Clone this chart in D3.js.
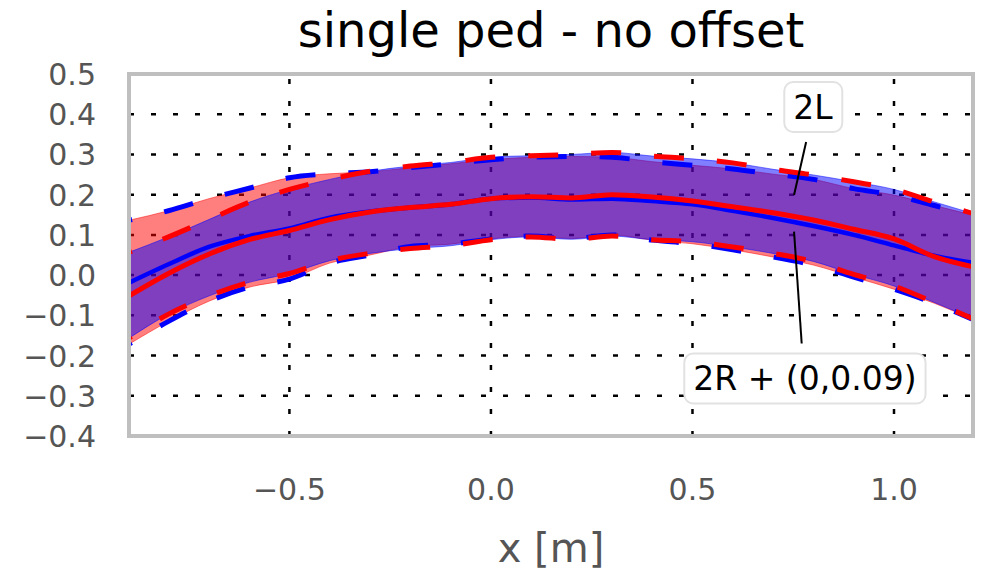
<!DOCTYPE html>
<html>
<head>
<meta charset="utf-8">
<script src="https://cdn.jsdelivr.net/npm/d3@7"></script>
<style>
	body { margin: 0; background: #fff; }
	svg { display: block; font-family: "DejaVu Sans", sans-serif; }
</style>
</head>
<body>
<div id="chart"></div>
<script>
// sample positions along x [m]
const xs = [-0.9, -0.8, -0.7, -0.6, -0.5, -0.4, -0.3, -0.2, -0.1, 0.0, 0.1,
	0.2, 0.3, 0.4, 0.5, 0.6, 0.7, 0.8, 0.9, 1.0, 1.1, 1.2];

// 2L (blue): mean and dashed bounds
const meanL = [-0.02, 0.027, 0.070, 0.097, 0.116, 0.143, 0.158, 0.168, 0.176, 0.190, 0.193,
	0.188, 0.190, 0.184, 0.176, 0.160, 0.142, 0.122, 0.100, 0.074, 0.048, 0.030];
const hiL = [0.136, 0.160, 0.190, 0.216, 0.242, 0.252, 0.257, 0.267, 0.277, 0.287, 0.293,
	0.295, 0.293, 0.282, 0.273, 0.264, 0.251, 0.238, 0.215, 0.199, 0.173, 0.148];
const loL = [-0.173, -0.115, -0.065, -0.030, -0.010, 0.030, 0.050, 0.071, 0.077, 0.090, 0.097,
	0.091, 0.100, 0.087, 0.078, 0.063, 0.045, 0.025, -0.005, -0.035, -0.070, -0.112];

// 2R + (0,0.09) (red): mean and dashed bounds
const meanR = [-0.053, 0.004, 0.052, 0.088, 0.111, 0.138, 0.157, 0.168, 0.176, 0.190, 0.195,
	0.192, 0.200, 0.194, 0.184, 0.170, 0.155, 0.137, 0.114, 0.090, 0.046, 0.020];
const hiR = [0.056, 0.095, 0.138, 0.181, 0.213, 0.238, 0.258, 0.271, 0.280, 0.293, 0.297,
	0.300, 0.305, 0.296, 0.289, 0.279, 0.263, 0.249, 0.232, 0.213, 0.182, 0.152];
const loR = [-0.158, -0.097, -0.052, -0.018, 0.004, 0.036, 0.054, 0.066, 0.073, 0.088, 0.095,
	0.089, 0.097, 0.088, 0.083, 0.070, 0.054, 0.034, 0.002, -0.027, -0.068, -0.110];

const xTicks = [-0.5, 0.0, 0.5, 1.0];
const yTicks = [-0.4, -0.3, -0.2, -0.1, 0.0, 0.1, 0.2, 0.3, 0.4, 0.5];

const width = 985, height = 573;
const margin = {top: 74, right: 12, bottom: 137, left: 129};

const svg = d3.select("#chart").append("svg")
	.attr("width", width)
	.attr("height", height);

const x = d3.scaleLinear().domain([-0.898, 1.196]).range([margin.left, width - margin.right]);
const y = d3.scaleLinear().domain([-0.4, 0.5]).range([height - margin.bottom, margin.top]);

const fmt = d => (d < 0 ? "\u2212" : "") + Math.abs(d).toFixed(1);

svg.append("defs").append("clipPath").attr("id", "plot")
	.append("rect")
	.attr("x", x.range()[0]).attr("y", y.range()[1])
	.attr("width", x.range()[1] - x.range()[0])
	.attr("height", y.range()[0] - y.range()[1]);

//Title
svg.append("text")
	.attr("x", (x.range()[0] + x.range()[1]) / 2)
	.attr("y", 47)
	.attr("text-anchor", "middle")
	.attr("font-size", "48px")
	.attr("fill", "#000")
	.text("single ped - no offset");

//dotted grid, under the bands
const grid = svg.append("g").attr("clip-path", "url(#plot)");
grid.selectAll(".gx").data(xTicks).enter().append("line")
	.attr("x1", d => x(d)).attr("x2", d => x(d))
	.attr("y1", y.range()[0]).attr("y2", y.range()[1])
	.attr("stroke", "#000").attr("stroke-width", 2.5)
	.attr("stroke-dasharray", "5,17");
grid.selectAll(".gy").data(yTicks).enter().append("line")
	.attr("x1", x.range()[0]).attr("x2", x.range()[1])
	.attr("y1", d => y(d)).attr("y2", d => y(d))
	.attr("stroke", "#000").attr("stroke-width", 2.5)
	.attr("stroke-dasharray", "5,17");

//Tick labels
svg.append("g").selectAll("text").data(yTicks).enter().append("text")
	.attr("x", 96)
	.attr("y", d => y(d) + 11)
	.attr("text-anchor", "end")
	.attr("font-size", "30px")
	.attr("fill", "#555")
	.text(fmt);
svg.append("g").selectAll("text").data(xTicks).enter().append("text")
	.attr("x", d => x(d))
	.attr("y", 500)
	.attr("text-anchor", "middle")
	.attr("font-size", "30px")
	.attr("fill", "#555")
	.text(fmt);

//X-Axis Title
svg.append("text")
	.attr("x", (x.range()[0] + x.range()[1]) / 2)
	.attr("y", 562)
	.attr("text-anchor", "middle")
	.attr("font-size", "40px")
	.attr("fill", "#555")
	.text("x [m]");

const plot = svg.append("g").attr("clip-path", "url(#plot)");

const band = (lo, hi) => d3.area()
	.curve(d3.curveMonotoneX)
	.x((d, i) => x(xs[i]))
	.y0((d, i) => y(lo[i]))
	.y1((d, i) => y(hi[i]))(xs);
const line = vals => d3.line()
	.curve(d3.curveMonotoneX)
	.x((d, i) => x(xs[i]))
	.y((d, i) => y(vals[i]))(xs);

//shaded bands (red one spans the blue dashed bounds, blue one the red dashed bounds)
plot.append("path")
	.attr("d", band(loL, hiL))
	.attr("fill", "rgba(255,0,0,0.5)")
	.attr("stroke", "rgba(255,0,0,0.5)")
	.attr("stroke-width", 1);
plot.append("path")
	.attr("d", band(loR, hiR))
	.attr("fill", "rgba(0,0,255,0.5)")
	.attr("stroke", "rgba(0,0,255,0.5)")
	.attr("stroke-width", 1);

//blue series
plot.append("path").attr("d", line(meanL))
	.attr("fill", "none").attr("stroke", "#0000ff").attr("stroke-width", 4.5);
[hiL, loL].forEach(v => plot.append("path").attr("d", line(v))
	.attr("fill", "none").attr("stroke", "#0000ff").attr("stroke-width", 5)
	.attr("stroke-dasharray", "30,33").attr("stroke-dashoffset", 26));

//red series
plot.append("path").attr("d", line(meanR))
	.attr("fill", "none").attr("stroke", "#ff0000").attr("stroke-width", 5);
[hiR, loR].forEach(v => plot.append("path").attr("d", line(v))
	.attr("fill", "none").attr("stroke", "#ff0000").attr("stroke-width", 5)
	.attr("stroke-dasharray", "30,33").attr("stroke-dashoffset", 26));

//annotations
const notes = [
	{label: "2L", tx: 0.799, ty: 0.418, x1: 0.782, y1: 0.331, x2: 0.752, y2: 0.199},
	{label: "2R + (0,0.09)", tx: 0.779, ty: -0.257, x1: 0.752, y1: 0.108, x2: 0.771, y2: -0.170}
];
notes.forEach(n => {
	svg.append("line")
		.attr("x1", x(n.x1)).attr("y1", y(n.y1))
		.attr("x2", x(n.x2)).attr("y2", y(n.y2))
		.attr("stroke", "#000").attr("stroke-width", 2);
	const g = svg.append("g");
	const t = g.append("text")
		.attr("x", x(n.tx))
		.attr("y", y(n.ty) + 12)
		.attr("text-anchor", "middle")
		.attr("font-size", "33px")
		.attr("fill", "#000")
		.text(n.label);
	const bb = t.node().getBBox();
	g.insert("rect", "text")
		.attr("x", bb.x - 9).attr("y", y(n.ty) - 25)
		.attr("width", bb.width + 18).attr("height", 50)
		.attr("rx", 9)
		.attr("fill", "#fff")
		.attr("stroke", "#e2e2e2").attr("stroke-width", 2);
});

//frame
svg.append("rect")
	.attr("x", x.range()[0]).attr("y", y.range()[1])
	.attr("width", x.range()[1] - x.range()[0])
	.attr("height", y.range()[0] - y.range()[1])
	.attr("fill", "none")
	.attr("stroke", "#bfbfbf")
	.attr("stroke-width", 4);
</script>
</body>
</html>
